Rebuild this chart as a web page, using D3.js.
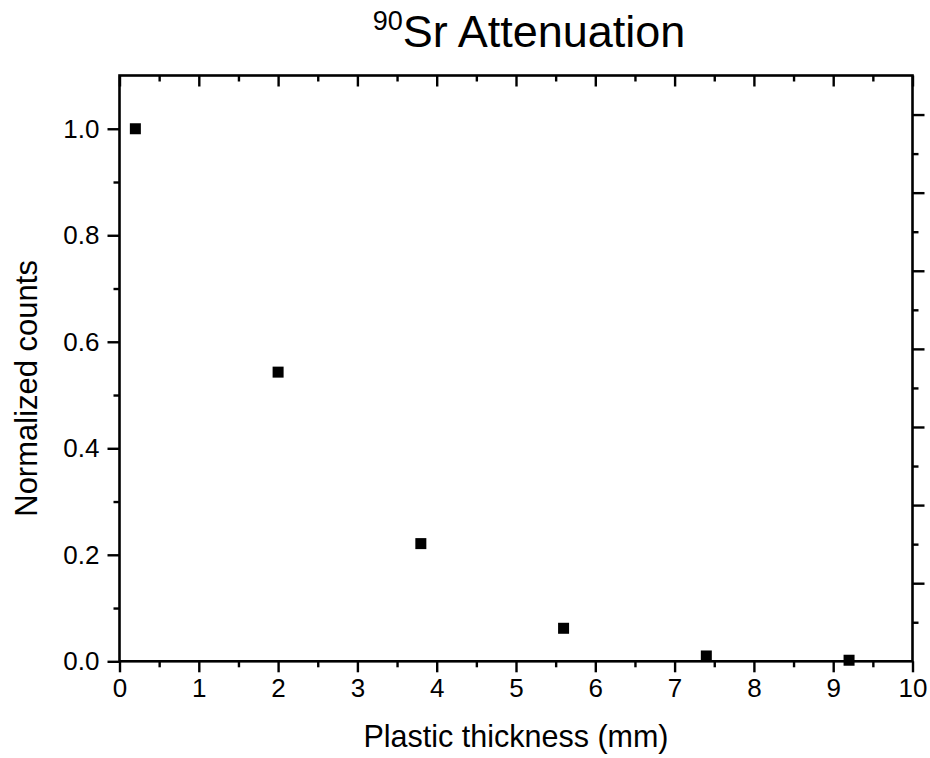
<!DOCTYPE html>
<html>
<head>
<meta charset="utf-8">
<script src="https://cdn.jsdelivr.net/npm/d3@7"></script>
<style>
  body { margin: 0; background: #fff; }
  svg { display: block; font-family: "Liberation Sans", Arial, sans-serif; }
</style>
</head>
<body>
<svg id="chart" width="930" height="758"></svg>
<script>
const thickness = [0.2, 2.0, 3.8, 5.6, 7.4, 9.2];
const counts = [1.0, 0.543, 0.221, 0.062, 0.010, 0.002];
const xTicks = [0, 1, 2, 3, 4, 5, 6, 7, 8, 9, 10];
const yTicks = [0.0, 0.2, 0.4, 0.6, 0.8, 1.0];
const titleSup = "90";
const titleMain = "Sr Attenuation";
const xLabel = "Plastic thickness (mm)";
const yLabel = "Normalized counts";

const svg = d3.select("#chart");
const m = { left: 119.5, right: 912.5, top: 75.5, bottom: 661.3 };
const x = d3.scaleLinear().domain([0, 10]).range([m.left, m.right]);
const y = d3.scaleLinear().domain([0, 1.1]).range([m.bottom, m.top]);
const yR = d3.scaleLinear().domain([0, 7.5]).range([m.bottom, m.top]);

const xMinor = d3.range(0.5, 10, 1);
const yMinor = d3.range(0.1, 1.1, 0.2);
const yRMajor = d3.range(1, 8, 1);
const yRMinor = d3.range(0.5, 7.5, 1);

function styleAxis(g) {
  g.select(".domain").remove();
  g.selectAll("line").attr("stroke", "#000").attr("stroke-width", 2.4);
  g.selectAll("text").attr("fill", "#000").attr("font-size", 26);
}

// bottom axis
svg.append("g").attr("transform", `translate(0,${m.bottom})`)
  .call(d3.axisBottom(x).tickValues(xTicks).tickFormat(d3.format("d")).tickSize(11).tickPadding(6))
  .call(styleAxis);
svg.append("g").attr("transform", `translate(0,${m.bottom})`)
  .call(d3.axisBottom(x).tickValues(xMinor).tickFormat("").tickSize(6))
  .call(styleAxis);
// top axis (ticks inward)
svg.append("g").attr("transform", `translate(0,${m.top})`)
  .call(d3.axisBottom(x).tickValues(xTicks).tickFormat("").tickSize(11))
  .call(styleAxis);
svg.append("g").attr("transform", `translate(0,${m.top})`)
  .call(d3.axisBottom(x).tickValues(xMinor).tickFormat("").tickSize(6))
  .call(styleAxis);
// left axis
svg.append("g").attr("transform", `translate(${m.left},0)`)
  .call(d3.axisLeft(y).tickValues(yTicks).tickFormat(d3.format(".1f")).tickSize(12).tickPadding(8))
  .call(styleAxis);
svg.append("g").attr("transform", `translate(${m.left},0)`)
  .call(d3.axisLeft(y).tickValues(yMinor).tickFormat("").tickSize(6))
  .call(styleAxis);
// right axis (own scale, no labels)
svg.append("g").attr("transform", `translate(${m.right},0)`)
  .call(d3.axisRight(yR).tickValues(yRMajor).tickFormat("").tickSize(12))
  .call(styleAxis);
svg.append("g").attr("transform", `translate(${m.right},0)`)
  .call(d3.axisRight(yR).tickValues(yRMinor).tickFormat("").tickSize(6))
  .call(styleAxis);

// frame
svg.append("rect")
  .attr("x", m.left).attr("y", m.top)
  .attr("width", m.right - m.left).attr("height", m.bottom - m.top)
  .attr("fill", "none").attr("stroke", "#000").attr("stroke-width", 2.6);

// points
const s = 11;
svg.append("g").selectAll("rect").data(thickness).join("rect")
  .attr("x", (d) => x(d) - s / 2)
  .attr("y", (d, i) => y(counts[i]) - s / 2)
  .attr("width", s).attr("height", s)
  .attr("fill", "#000");

// title
const t = svg.append("text").attr("x", 529).attr("y", 47)
  .attr("text-anchor", "middle").attr("fill", "#000");
t.append("tspan").attr("font-size", 27).attr("dy", -17).text(titleSup);
t.append("tspan").attr("font-size", 45).attr("dy", 17).text(titleMain);

// axis labels
svg.append("text").attr("x", (m.left + m.right) / 2).attr("y", 747)
  .attr("text-anchor", "middle").attr("font-size", 30.5).attr("fill", "#000").text(xLabel);
svg.append("text")
  .attr("transform", `translate(37,${(m.top + m.bottom) / 2 + 20}) rotate(-90)`)
  .attr("text-anchor", "middle").attr("font-size", 31).attr("fill", "#000").text(yLabel);
</script>
</body>
</html>
